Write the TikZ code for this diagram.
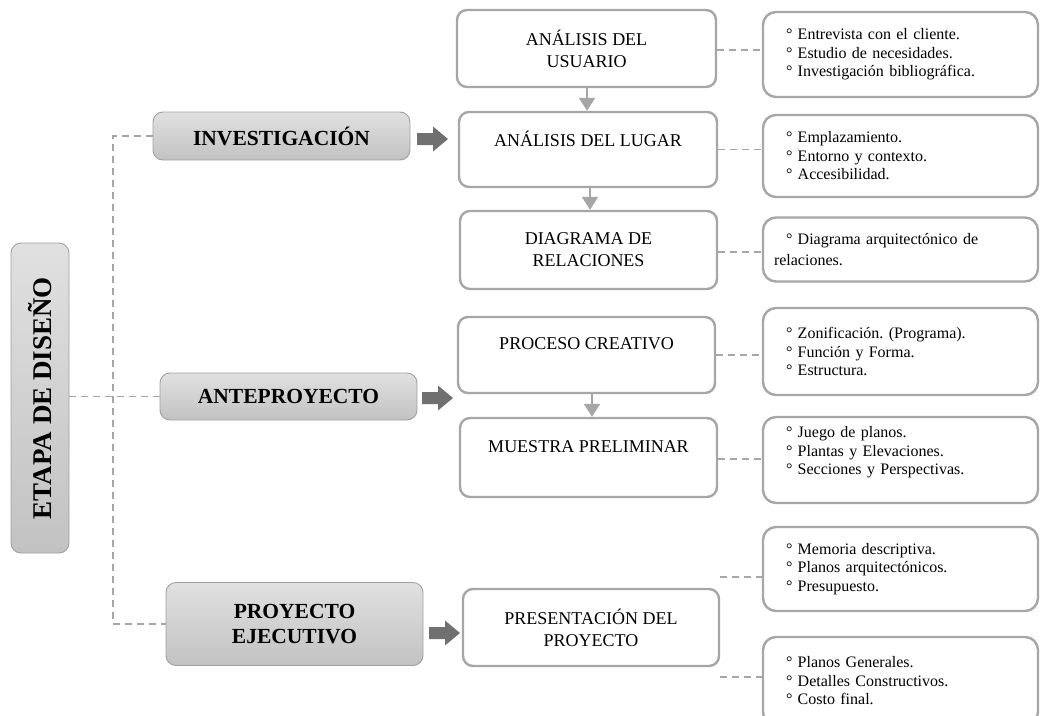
\documentclass[tikz,border=0pt]{standalone}
\usepackage{fontspec}
\setmainfont{Liberation Serif}
\usetikzlibrary{arrows.meta,calc}
\definecolor{linegray}{HTML}{A6A6A6}
\definecolor{framegray}{HTML}{A0A0A0}
\definecolor{arrowgray}{HTML}{707070}
\frenchspacing
\begin{document}
\begin{tikzpicture}[x=1pt,y=-1pt,
  phasebox/.style={draw=framegray, line width=0.9pt, rounded corners=10pt,
    top color=black!12, bottom color=black!24, minimum width=257pt,
    align=center, inner sep=0pt, font=\fontsize{21.5}{25}\selectfont\bfseries},
  stepbox/.style={draw=linegray, line width=2.4pt, rounded corners=10pt,
    fill=white, align=center, inner sep=0pt,
    font=\fontsize{18}{22}\selectfont},
  notebox/.style={draw=linegray, line width=2.4pt, rounded corners=13pt,
    fill=white, minimum width=275pt, text width=253pt, inner xsep=11pt,
    inner ysep=0pt, align=left, font=\fontsize{16}{18.5}\selectfont},
  dashline/.style={draw=linegray, line width=1.4pt, dash pattern=on 7pt off 5pt},
  stepflow/.style={draw=linegray, line width=2.4pt,
    -{Triangle[width=16pt,length=13pt]}},
  bigarrow/.pic={\fill[arrowgray] (0,-6) -- (16,-6) -- (16,-12.5) -- (31,0)
    -- (16,12.5) -- (16,6) -- (0,6) -- cycle;}
]
\useasboundingbox (0,0) rectangle (1041,715);

% main stage
\node[phasebox, minimum width=58pt, minimum height=310pt] (etapa) at (40,398) {};
\node[rotate=90, font=\fontsize{27}{30}\selectfont\bfseries] (etapatxt) at (etapa.center) {ETAPA DE DISEÑO};

% phases
\node[phasebox, minimum height=48pt] (inv) at (281.5,136) {INVESTIGACIÓN};
\node[phasebox, minimum height=47pt] (ante) at (288.5,396.5) {ANTEPROYECTO};
\node[phasebox, minimum height=83pt] (proy) at (294.5,624) {PROYECTO\\EJECUTIVO};

% steps
\node[stepbox, minimum width=259pt, minimum height=77pt] (usu) at (586.5,48.5) {ANÁLISIS DEL\\USUARIO};
\node[stepbox, minimum width=258pt, minimum height=75pt] (lug) at (588,149.5) {ANÁLISIS DEL LUGAR\\\mbox{}};
\node[stepbox, minimum width=257pt, minimum height=78pt] (dia) at (588.5,250) {DIAGRAMA DE\\RELACIONES};
\node[stepbox, minimum width=257pt, minimum height=76pt] (pro) at (586.5,355) {PROCESO CREATIVO\\\mbox{}};
\node[stepbox, minimum width=257pt, minimum height=79pt] (mue) at (588.5,457.5) {MUESTRA PRELIMINAR\\\mbox{}};
\node[stepbox, minimum width=256pt, minimum height=77pt] (pre) at (591,627.5) {PRESENTACIÓN DEL\\PROYECTO};

% notes
\node[notebox, minimum height=85pt] (r1) at (900.5,54.5) {\hspace*{12pt}° Entrevista con el cliente.\\\hspace*{12pt}° Estudio de necesidades.\\\hspace*{12pt}° Investigación bibliográfica.};
\node[notebox, minimum height=82pt] (r2) at (900.5,156) {\hspace*{12pt}° Emplazamiento.\\\hspace*{12pt}° Entorno y contexto.\\\hspace*{12pt}° Accesibilidad.};
\node[notebox, minimum height=64pt, font=\fontsize{16}{21}\selectfont] (r3) at (900.5,249.5) {\hspace*{12pt}° Diagrama arquitectónico de\\relaciones.};
\node[notebox, minimum height=87pt] (r4) at (900.5,351.5) {\hspace*{12pt}° Zonificación. (Programa).\\\hspace*{12pt}° Función y Forma.\\\hspace*{12pt}° Estructura.};
\node[notebox, minimum height=86pt] (r5) at (900.5,460) {\hspace*{12pt}° Juego de planos.\\\hspace*{12pt}° Plantas y Elevaciones.\\\hspace*{12pt}° Secciones y Perspectivas.\\\mbox{}};
\node[notebox, minimum height=84pt] (r6) at (900.5,569) {\hspace*{12pt}° Memoria descriptiva.\\\hspace*{12pt}° Planos arquitectónicos.\\\hspace*{12pt}° Presupuesto.};
\node[notebox, minimum height=88pt] (r7) at (900.5,681) {\hspace*{12pt}° Planos Generales.\\\hspace*{12pt}° Detalles Constructivos.\\\hspace*{12pt}° Costo final.};

% dashed tree on the left
\coordinate (spine) at (113,0);
\draw[dashline] (etapa.east |- ante.west) -- (ante.west);
\draw[dashline] (inv.west) -- (inv.west -| spine) -- (proy.west -| spine) -- (proy.west);

% dashed links to the notes
\draw[dashline] (usu.east |- 0,50) -- (r1.west |- 0,50);
\draw[dashline] (lug.east) -- (lug.east -| r2.west);
\draw[dashline] (dia.east |- 0,252) -- (r3.west |- 0,252);
\draw[dashline] (pro.east) -- (pro.east -| r4.west);
\draw[dashline] (mue.east |- 0,459) -- (r5.west |- 0,459);
\coordinate (d6) at (0,577);
\coordinate (d7) at (0,677);
\draw[dashline] (pre.east |- d6) -- (r6.west |- d6);
\draw[dashline] (pre.east |- d7) -- (r7.west |- d7);

% flow between steps
\draw[stepflow] (usu.south -| 587,0) -- (lug.north -| 587,0);
\draw[stepflow] (lug.south -| 590,0) -- (dia.north -| 590,0);
\draw[stepflow] (pro.south -| 592,0) -- (mue.north -| 592,0);

% block arrows from phases to steps
\pic at (417,139) {bigarrow};
\pic at (422,398) {bigarrow};
\pic at (429,633) {bigarrow};
\end{tikzpicture}
\end{document}
